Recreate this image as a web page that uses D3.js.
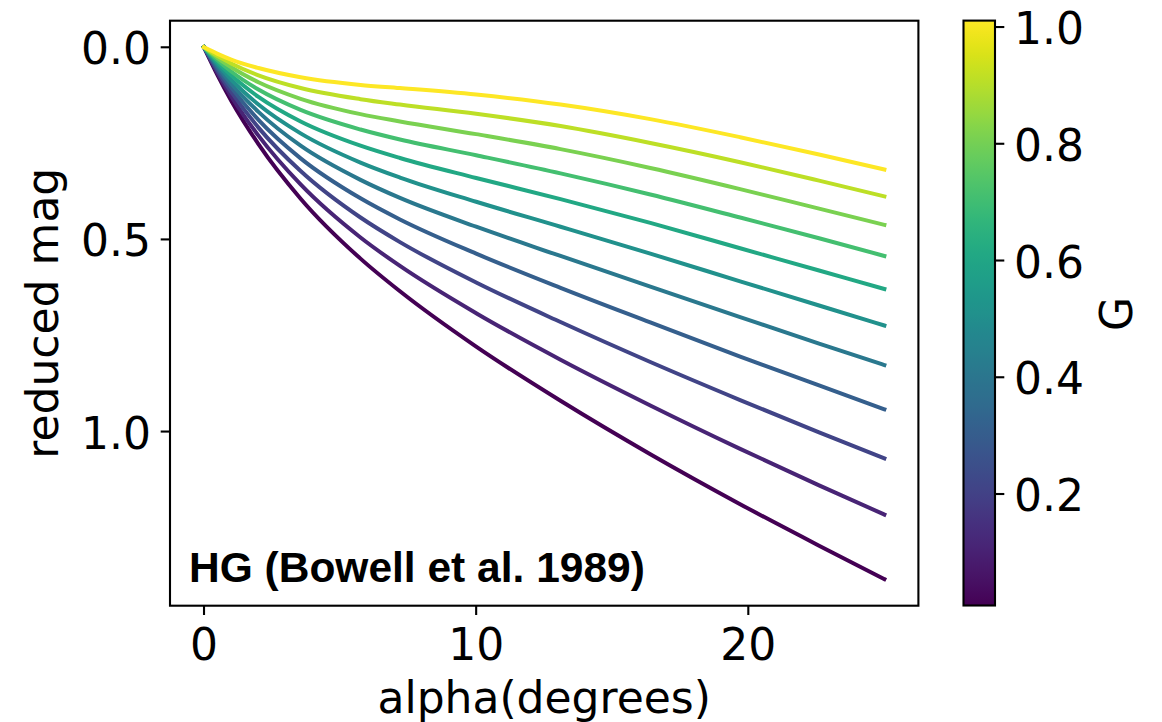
<!DOCTYPE html>
<html>
<head>
<meta charset="utf-8">
<script src="https://cdn.jsdelivr.net/npm/d3@7"></script>
<style>
  body { margin: 0; background: #fff; }
  svg { display: block; }
  text { font-family: "DejaVu Sans", sans-serif; fill: #000; }
</style>
</head>
<body>
<svg id="chart"></svg>
<script>
const alphaDeg = [0, 0.5, 1, 2, 3.55, 5.75, 7.2, 10, 13.1, 16.4, 19.7, 22.6, 25];

// G value of each curve (as on the colour bar)
const gValues = [0.01, 0.11, 0.21, 0.31, 0.41, 0.51, 0.61, 0.71, 0.81, 0.91, 1.01];

// reduced magnitude for each curve, same order as gValues
const mag00 = [0, 0.073, 0.139, 0.252, 0.394, 0.550, 0.635, 0.779, 0.920, 1.059, 1.189, 1.297, 1.384];
const mag01 = [0, 0.068, 0.128, 0.230, 0.357, 0.495, 0.569, 0.692, 0.813, 0.932, 1.045, 1.140, 1.216];
const mag02 = [0, 0.062, 0.116, 0.209, 0.322, 0.443, 0.507, 0.612, 0.715, 0.819, 0.918, 1.002, 1.070];
const mag03 = [0, 0.056, 0.105, 0.189, 0.289, 0.393, 0.448, 0.537, 0.626, 0.716, 0.805, 0.880, 0.942];
const mag04 = [0, 0.050, 0.095, 0.168, 0.256, 0.345, 0.392, 0.467, 0.543, 0.623, 0.702, 0.771, 0.827];
const mag05 = [0, 0.045, 0.084, 0.149, 0.224, 0.300, 0.339, 0.402, 0.467, 0.537, 0.609, 0.672, 0.724];
const mag06 = [0, 0.039, 0.073, 0.129, 0.193, 0.256, 0.288, 0.340, 0.395, 0.457, 0.523, 0.581, 0.629];
const mag07 = [0, 0.034, 0.063, 0.110, 0.163, 0.214, 0.240, 0.281, 0.328, 0.383, 0.443, 0.497, 0.543];
const mag08 = [0, 0.028, 0.052, 0.091, 0.134, 0.174, 0.193, 0.226, 0.265, 0.314, 0.369, 0.420, 0.462];
const mag09 = [0, 0.023, 0.042, 0.073, 0.106, 0.135, 0.149, 0.173, 0.205, 0.249, 0.299, 0.347, 0.388];
const mag10 = [0, 0.017, 0.032, 0.054, 0.078, 0.098, 0.106, 0.123, 0.149, 0.187, 0.234, 0.279, 0.318];
const magSeries = [mag00, mag01, mag02, mag03, mag04, mag05, mag06, mag07, mag08, mag09, mag10];

const xTicks = [0, 10, 20];
const yTicks = [0.0, 0.5, 1.0];
const cbTicks = [0.2, 0.4, 0.6, 0.8, 1.0];

const width = 1162, height = 722;
const svg = d3.select("#chart").attr("width", width).attr("height", height);

// plot area
const ax = {left: 170, right: 918.4, top: 20.7, bottom: 605.7};
const x = d3.scaleLinear().domain([-1.25, 26.25]).range([ax.left, ax.right]);
const y = d3.scaleLinear().domain([-0.0692, 1.4532]).range([ax.top, ax.bottom]);

// colour bar
const cb = {left: 963.5, right: 995, top: 20.6, bottom: 605.5};
const cbScale = d3.scaleLinear().domain([0.009, 1.011]).range([cb.bottom, cb.top]);
const color = d3.scaleSequential(d3.interpolateViridis).domain([0.009, 1.011]);

const tickFont = 44;

// curves
const line = d3.line()
    .x(d => x(d[0]))
    .y(d => y(d[1]))
    .curve(d3.curveMonotoneX);

svg.append("clipPath").attr("id", "plotclip")
    .append("rect")
    .attr("x", ax.left).attr("y", ax.top)
    .attr("width", ax.right - ax.left).attr("height", ax.bottom - ax.top);

svg.append("g").attr("clip-path", "url(#plotclip)")
  .selectAll("path")
  .data(magSeries)
  .join("path")
    .attr("d", (m) => line(alphaDeg.map((a, i) => [a, m[i]])))
    .attr("fill", "none")
    .attr("stroke", (m, i) => color(gValues[i]))
    .attr("stroke-width", 4)
    .attr("stroke-linecap", "square")
    .attr("stroke-linejoin", "round");

// frame
svg.append("rect")
    .attr("x", ax.left).attr("y", ax.top)
    .attr("width", ax.right - ax.left).attr("height", ax.bottom - ax.top)
    .attr("fill", "none").attr("stroke", "#000").attr("stroke-width", 2.1);

// x axis ticks + labels
const xg = svg.append("g");
xg.selectAll("line").data(xTicks).join("line")
    .attr("x1", d => x(d)).attr("x2", d => x(d))
    .attr("y1", ax.bottom).attr("y2", ax.bottom + 9.3)
    .attr("stroke", "#000").attr("stroke-width", 2.1);
xg.selectAll("text").data(xTicks).join("text")
    .attr("x", d => x(d)).attr("y", 660)
    .attr("text-anchor", "middle")
    .attr("font-size", tickFont)
    .text(d => d3.format("d")(d));

// y axis ticks + labels
const yg = svg.append("g");
yg.selectAll("line").data(yTicks).join("line")
    .attr("x1", ax.left - 9.3).attr("x2", ax.left)
    .attr("y1", d => y(d)).attr("y2", d => y(d))
    .attr("stroke", "#000").attr("stroke-width", 2.1);
yg.selectAll("text").data(yTicks).join("text")
    .attr("x", 151).attr("y", d => y(d) + 17)
    .attr("text-anchor", "end")
    .attr("font-size", tickFont)
    .text(d => d3.format(".1f")(d));

// axis titles
svg.append("text")
    .attr("x", (ax.left + ax.right) / 2).attr("y", 713)
    .attr("text-anchor", "middle")
    .attr("font-size", tickFont)
    .text("alpha(degrees)");

svg.append("text")
    .attr("transform", `translate(58.3, ${(ax.top + ax.bottom) / 2}) rotate(-90)`)
    .attr("text-anchor", "middle")
    .attr("font-size", tickFont)
    .text("reduced mag");

// model name in the corner
svg.append("text")
    .attr("x", 189).attr("y", 581.7)
    .style("font-family", "'Liberation Sans', Arial, Helvetica, sans-serif")
    .style("font-weight", "bold")
    .style("font-size", "42.5px")
    .text("HG (Bowell et al. 1989)");

// colour bar gradient
const grad = svg.append("defs").append("linearGradient")
    .attr("id", "viridisGrad")
    .attr("x1", 0).attr("y1", 1).attr("x2", 0).attr("y2", 0);
grad.selectAll("stop")
    .data(d3.range(0, 1.0001, 0.02))
    .join("stop")
    .attr("offset", d => d)
    .attr("stop-color", d => d3.interpolateViridis(d));

svg.append("rect")
    .attr("x", cb.left).attr("y", cb.top)
    .attr("width", cb.right - cb.left).attr("height", cb.bottom - cb.top)
    .attr("fill", "url(#viridisGrad)")
    .attr("stroke", "#000").attr("stroke-width", 2.1);

const cg = svg.append("g");
cg.selectAll("line").data(cbTicks).join("line")
    .attr("x1", cb.right).attr("x2", cb.right + 9.3)
    .attr("y1", d => cbScale(d)).attr("y2", d => cbScale(d))
    .attr("stroke", "#000").attr("stroke-width", 2.1);
cg.selectAll("text").data(cbTicks).join("text")
    .attr("x", 1014).attr("y", d => cbScale(d) + 17)
    .attr("font-size", tickFont)
    .text(d => d3.format(".1f")(d));

svg.append("text")
    .attr("transform", `translate(1131.7, ${(cb.top + cb.bottom) / 2 + 1}) rotate(-90)`)
    .attr("text-anchor", "middle")
    .attr("font-size", tickFont)
    .text("G");
</script>
</body>
</html>
